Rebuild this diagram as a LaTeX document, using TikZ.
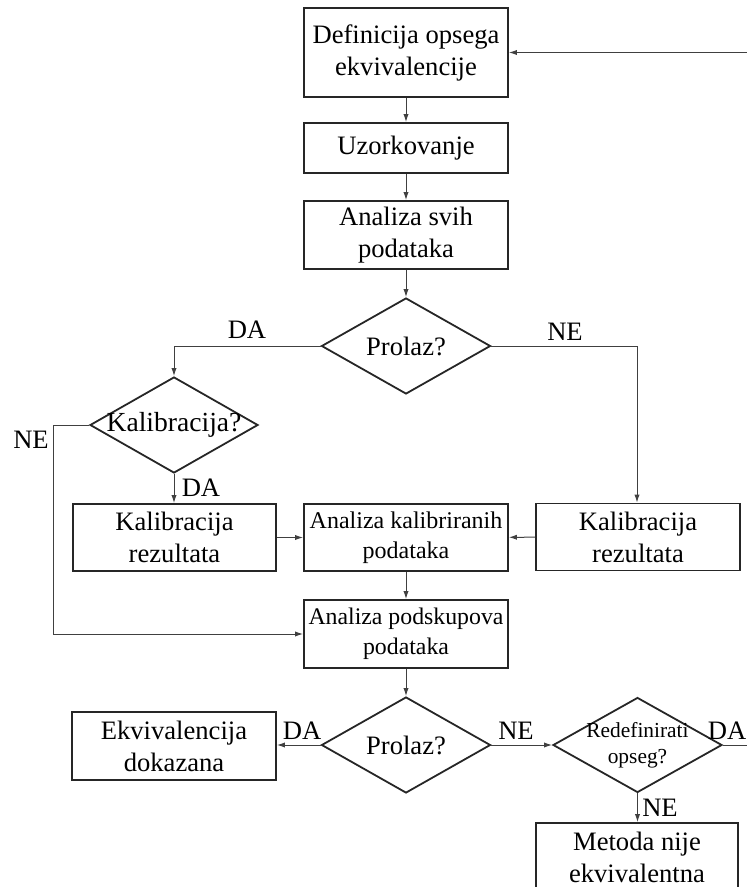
\documentclass[tikz,border=0pt]{standalone}
\usepackage{fontspec}
\setmainfont{Liberation Serif}
\usetikzlibrary{shapes.geometric,arrows.meta}
\begin{document}
\begin{tikzpicture}[x=0.5pt,y=-0.5pt,
  box/.style={draw=black!85,line width=0.9pt,rectangle,inner sep=0pt,align=center,
    font=\fontsize{13.3}{16}\selectfont},
  dia/.style={draw=black!85,line width=0.9pt,diamond,inner sep=0pt,minimum width=84.5pt,minimum height=48pt},
  txt/.style={inner sep=0pt,align=center,font=\fontsize{13.3}{16}\selectfont},
  lbl/.style={inner sep=0pt,font=\fontsize{13.3}{16}\selectfont},
  conn/.style={draw=black!75,line width=0.5pt,-{Latex[length=4pt,width=2.6pt]}},
  line/.style={draw=black!75,line width=0.5pt}]
\useasboundingbox (0,0) rectangle (747,887);
\clip (0,0) rectangle (747,887);
% boxes
\node[box,minimum width=102pt,minimum height=44.5pt] (b1) at (406,52.5) {Definicija opsega\\ekvivalencije};
\node[box,minimum width=102pt,minimum height=25pt] (b2) at (406,148) {Uzorkovanje};
\node[box,minimum width=102pt,minimum height=34pt] (b3) at (406,235) {Analiza svih\\podataka};
\node[dia] (d1) at (406,346) {};
\node[txt] at (d1) {Prolaz?};
\node[dia,minimum width=84pt] (d2) at (174,425) {};
\node[txt,font=\fontsize{13.8}{16}\selectfont] at (d2) {Kalibracija?};
\node[box,minimum width=101.5pt,minimum height=33.5pt] (kl) at (174.5,537.5) {Kalibracija\\rezultata};
\node[box,minimum width=102pt,minimum height=33.5pt,font=\fontsize{12}{15}\selectfont] (ak) at (406,537.5) {Analiza kalibriranih\\podataka};
\node[box,minimum width=102pt,minimum height=33.5pt] (kr) at (638,537) {Kalibracija\\rezultata};
\node[box,minimum width=102pt,minimum height=34pt,font=\fontsize{11.9}{15}\selectfont] (ap) at (406,634) {Analiza podskupova\\podataka};
\node[dia] (d3) at (406,745) {};
\node[txt] at (d3) {Prolaz?};
\node[box,minimum width=102pt,minimum height=34pt] (ek) at (174,746) {Ekvivalencija\\dokazana};
\node[dia,minimum height=47.5pt] (d4) at (637.5,745) {};
\node[txt,font=\fontsize{10.7}{13}\selectfont] at (d4) {Redefinirati\\opseg?};
\node[box,minimum width=101pt,minimum height=34pt] (mn) at (637,857) {Metoda nije\\ekvivalentna};
% coordinates
\coordinate (ret) at (760,52.5);
\coordinate (out) at (760,745);
\coordinate (c1) at (174,346);
\coordinate (c2) at (637,346);
\coordinate (c3) at (53,425);
\coordinate (c4) at (53,634);
% connectors
\draw[conn] (ret) -- (b1.east);
\draw[conn] (b1) -- (b2);
\draw[conn] (b2) -- (b3);
\draw[conn] (b3) -- (d1);
\draw[conn] (d1.west) -- (c1) -- (d2.north);
\draw[conn] (d1.east) -- (c2) -- (kr.north -| c2);
\draw[conn] (d2.south) -- (kl.north -| d2.south);
\draw[conn] (d2.west) -- (c3) -- (c4) -- (ap.west |- c4);
\draw[conn] (kl) -- (ak);
\draw[conn] (kr) -- (ak);
\draw[conn] (ak) -- (ap);
\draw[conn] (ap) -- (d3);
\draw[conn] (d3.west) -- (ek.east |- d3.west);
\draw[conn] (d3.east) -- (d4.west);
\draw[line] (d4.east) -- (out);
\draw[conn] (d4.south) -- (mn.north -| d4.south);
% labels
\node[lbl] at (247,330) {DA};
\node[lbl] at (565,332) {NE};
\node[lbl] at (31,440) {NE};
\node[lbl] at (201,488) {DA};
\node[lbl] at (302,731) {DA};
\node[lbl] at (516,731) {NE};
\node[lbl] at (727,731) {DA};
\node[lbl] at (660,808) {NE};
\end{tikzpicture}
\end{document}
